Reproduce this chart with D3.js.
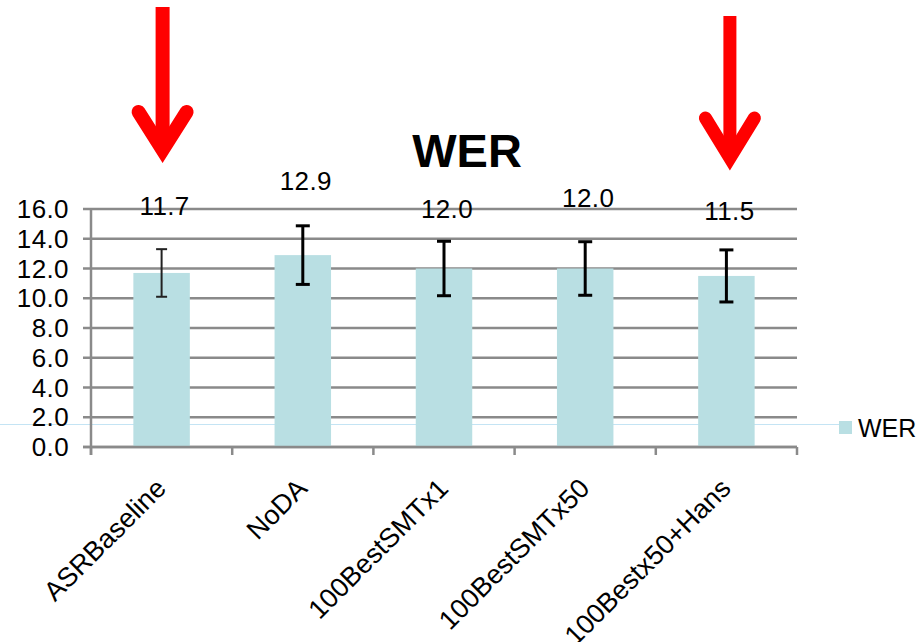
<!DOCTYPE html>
<html>
<head>
<meta charset="utf-8">
<script src="https://cdn.jsdelivr.net/npm/d3@7/dist/d3.min.js"></script>
<style>
  html, body { margin: 0; padding: 0; background: #fff; }
  svg { display: block; font-family: "Liberation Sans", Arial, sans-serif; }
</style>
</head>
<body>
<svg id="chart" width="922" height="642"></svg>
<script>
// ---- data ----
const categories = ["ASRBaseline", "NoDA", "100BestSMTx1", "100BestSMTx50", "100Bestx50+Hans"];
const werValues  = [11.7, 12.9, 12.0, 12.0, 11.5];
const werErrors  = [1.6, 1.97, 1.83, 1.8, 1.75];
const yTicks     = [0, 2, 4, 6, 8, 10, 12, 14, 16];
const seriesName = "WER";
const chartTitle = "WER";
const arrowCategories = ["ASRBaseline", "100Bestx50+Hans"];

// ---- layout / style ----
const svg = d3.select("#chart");
const plot = { left: 91, right: 797, top: 209, bottom: 447 };
const barColor = "#b9dfe3";
const gridColor = "#8a8a8a";
const labelLift = [34, 36, 23, 35, 30];   // px above error-bar top for value labels

const x = d3.scaleBand().domain(categories).range([plot.left, plot.right]).padding(0);
const y = d3.scaleLinear().domain([0, 16]).range([plot.bottom, plot.top]);
const barW = x.bandwidth() * 0.4;

// stray thin line
svg.append("line")
  .attr("x1", 0).attr("x2", 839).attr("y1", 424.5).attr("y2", 424.5)
  .attr("stroke", "#c4e4f4").attr("stroke-width", 1);

// gridlines (with left ticks)
svg.append("g").selectAll("line").data(yTicks).join("line")
  .attr("x1", plot.left - 8).attr("x2", plot.right)
  .attr("y1", d => y(d)).attr("y2", d => y(d))
  .attr("stroke", gridColor).attr("stroke-width", 2.5);

// y axis labels
svg.append("g").selectAll("text").data(yTicks).join("text")
  .attr("x", 69).attr("y", d => y(d)).attr("dy", "0.35em")
  .attr("text-anchor", "end").attr("font-size", 26).attr("letter-spacing", 0.4).attr("fill", "#000")
  .text(d => d3.format(".1f")(d));

// y axis line
svg.append("line")
  .attr("x1", plot.left).attr("x2", plot.left)
  .attr("y1", plot.top).attr("y2", plot.bottom + 8)
  .attr("stroke", gridColor).attr("stroke-width", 2.5);

// x ticks at band boundaries
const boundaries = categories.map(c => x(c)).concat([plot.right]);
svg.append("g").selectAll("line").data(boundaries).join("line")
  .attr("x1", d => d).attr("x2", d => d)
  .attr("y1", plot.bottom).attr("y2", plot.bottom + 8)
  .attr("stroke", gridColor).attr("stroke-width", 2.5);

// bars
svg.append("g").selectAll("rect").data(werValues).join("rect")
  .attr("x", (d, i) => x(categories[i]) + x.bandwidth() / 2 - barW / 2)
  .attr("y", d => y(d))
  .attr("width", barW)
  .attr("height", d => y(0) - y(d))
  .attr("fill", barColor);

// x axis line on top of bars
svg.append("line")
  .attr("x1", plot.left - 8).attr("x2", plot.right)
  .attr("y1", plot.bottom).attr("y2", plot.bottom)
  .attr("stroke", gridColor).attr("stroke-width", 2.5);

// error bars
const eg = svg.append("g").attr("stroke", "#000");
werValues.forEach((v, i) => {
  const cx = x(categories[i]) + x.bandwidth() / 2;
  const sw = i === 0 ? 2 : 3;
  const cw = i === 0 ? 5.5 : 7;
  const col = i === 0 ? "#222" : "#000";
  const hi = y(v + werErrors[i]), lo = y(v - werErrors[i]);
  eg.append("line").attr("x1", cx).attr("x2", cx).attr("y1", hi).attr("y2", lo)
    .attr("stroke-width", sw).attr("stroke", col);
  [hi, lo].forEach(yy => eg.append("line")
    .attr("x1", cx - cw).attr("x2", cx + cw).attr("y1", yy).attr("y2", yy)
    .attr("stroke-width", sw).attr("stroke", col));
});

// value labels
svg.append("g").selectAll("text").data(werValues).join("text")
  .attr("x", (d, i) => x(categories[i]) + x.bandwidth() / 2 + 3)
  .attr("y", (d, i) => y(d + werErrors[i]) - labelLift[i])
  .attr("text-anchor", "middle").attr("font-size", 26).attr("letter-spacing", 0.4).attr("fill", "#000")
  .text(d => d3.format(".1f")(d));

// category labels rotated
svg.append("g").selectAll("text").data(categories).join("text")
  .attr("text-anchor", "end").attr("font-size", 27).attr("fill", "#000")
  .attr("transform", d => `translate(${x(d) + x.bandwidth() / 2 + 6},${plot.bottom + 43}) rotate(-45)`)
  .text(d => d);

// title
svg.append("text")
  .attr("x", 467).attr("y", 167).attr("text-anchor", "middle")
  .attr("font-size", 47).attr("font-weight", "bold").attr("fill", "#000")
  .text(chartTitle);

// legend
svg.append("rect").attr("x", 839).attr("y", 421).attr("width", 13).attr("height", 13).attr("fill", barColor);
svg.append("text").attr("x", 858).attr("y", 437).attr("font-size", 25).attr("fill", "#000").text(seriesName);

// red arrows
const arrowSpecs = [
  { cat: arrowCategories[0], dx: 1, top: 7, wingY: 112, vertex: 150, half: 24, w: 14 },
  { cat: arrowCategories[1], dx: 3.5, top: 16, wingY: 118, vertex: 158, half: 24.5, w: 13 }
];
arrowSpecs.forEach(a => {
  const cx = x(a.cat) + x.bandwidth() / 2 + a.dx;
  const g = svg.append("g");
  g.append("rect").attr("x", cx - a.w / 2).attr("y", a.top)
    .attr("width", a.w).attr("height", a.vertex - a.top).attr("fill", "#ff0000");
  g.append("path")
    .attr("d", d3.line()([[cx - a.half, a.wingY], [cx, a.vertex], [cx + a.half, a.wingY]]))
    .attr("fill", "none").attr("stroke", "#ff0000").attr("stroke-width", a.w)
    .attr("stroke-linecap", "round").attr("stroke-linejoin", "miter");
});
</script>
</body>
</html>
